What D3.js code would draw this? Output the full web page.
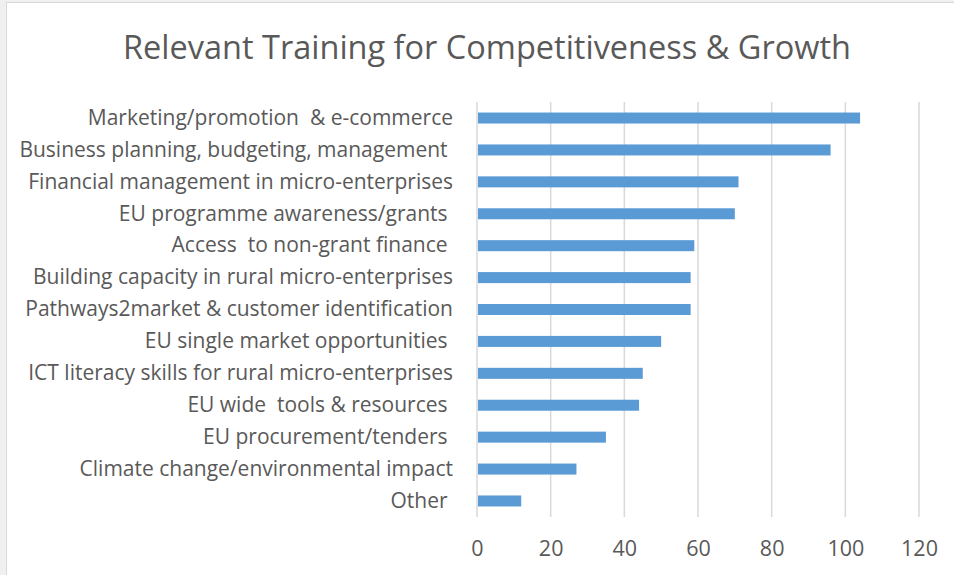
<!DOCTYPE html>
<html>
<head>
<meta charset="utf-8">
<script src="https://cdn.jsdelivr.net/npm/d3@7"></script>
<style>
  html, body { margin: 0; padding: 0; background: #f0f0f0; }
  svg { display: block; }
</style>
</head>
<body>
<script>
// chart data
const categories = [
  "Marketing/promotion  & e-commerce",
  "Business planning, budgeting, management ",
  "Financial management in micro-enterprises",
  "EU programme awareness/grants ",
  "Access  to non-grant finance ",
  "Building capacity in rural micro-enterprises",
  "Pathways2market & customer identification",
  "EU single market opportunities ",
  "ICT literacy skills for rural micro-enterprises",
  "EU wide  tools & resources ",
  "EU procurement/tenders ",
  "Climate change/environmental impact",
  "Other "
]
const values = [104, 96, 71, 70, 59, 58, 58, 50, 45, 44, 35, 27, 12]
const xTicks = [0, 20, 40, 60, 80, 100, 120]
const title = "Relevant Training for Competitiveness & Growth"

const width = 954
const height = 575
const margin = {top: 102, right: 35, bottom: 58, left: 477}
const textColor = "#595959"
const barColor = "#5B9BD5"
const gridColor = "#D9D9D9"
const font = "'Open Sans', 'Noto Sans', sans-serif"

const data = categories.map((c, i) => ({name: c, value: values[i]}))

let svg = d3.select("body").append("svg")
    .attr("width", width)
    .attr("height", height)

// chart area frame
svg.append("rect")
    .attr("x", 6.5)
    .attr("y", 2.5)
    .attr("width", width)
    .attr("height", height)
    .attr("fill", "#fff")
    .attr("stroke", "#d9d9d9")
    .attr("stroke-width", 1)

svg.append("text")
    .attr("x", 487)
    .attr("y", 59)
    .attr("text-anchor", "middle")
    .attr("font-family", font)
    .attr("font-size", 32.5)
    .attr("fill", textColor)
    .text(title)

let x = d3.scaleLinear()
    .domain([0, 120])
    .range([margin.left, width - margin.right])

let y = d3.scaleBand()
    .domain(categories)
    .range([margin.top, height - margin.bottom])
    .paddingInner(0.655)
    .paddingOuter(0.33)

// vertical gridlines
svg.append("g")
    .selectAll("line")
    .data(xTicks)
    .join("line")
    .attr("x1", d => x(d))
    .attr("x2", d => x(d))
    .attr("y1", margin.top)
    .attr("y2", height - margin.bottom)
    .attr("stroke", gridColor)
    .attr("stroke-width", 1.5)

svg.append("g")
    .attr("fill", barColor)
    .selectAll("rect")
    .data(data)
    .join("rect")
    .attr("x", x(0) + 1)
    .attr("y", d => y(d.name))
    .attr("width", d => x(d.value) - x(0) - 1)
    .attr("height", y.bandwidth())

// category axis (labels only)
let yAxis = g => g
    .attr("transform", `translate(${margin.left - 24},0)`)
    .call(d3.axisLeft(y).tickSize(0).tickPadding(0))
    .call(g => g.select(".domain").remove())
    .call(g => g.selectAll("text")
        .attr("fill", textColor)
        .attr("font-family", font)
        .attr("font-size", 21)
        .style("white-space", "pre"))

// value axis (labels only)
let xAxis = g => g
    .attr("transform", `translate(0,${height - margin.bottom})`)
    .call(d3.axisBottom(x).tickValues(xTicks).tickSize(0).tickPadding(24))
    .call(g => g.select(".domain").remove())
    .call(g => g.selectAll("text")
        .attr("fill", textColor)
        .attr("font-family", font)
        .attr("font-size", 21.5))

svg.append("g").call(yAxis)
svg.append("g").call(xAxis)
</script>
</body>
</html>
